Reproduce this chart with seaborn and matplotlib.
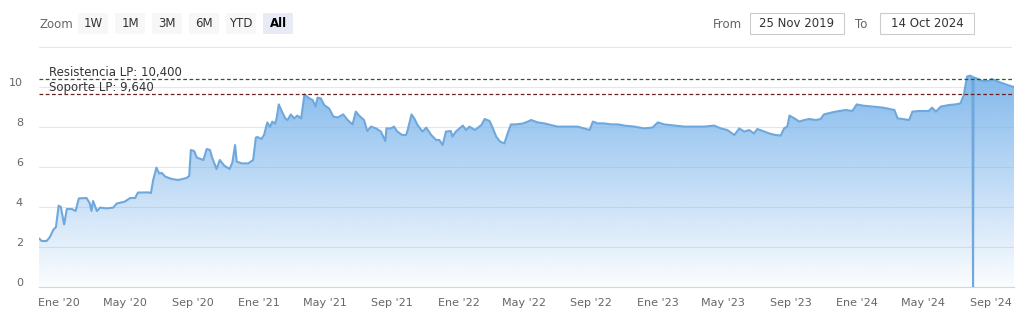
import numpy as np
import pandas as pd
import matplotlib
matplotlib.use("Agg")
import matplotlib.pyplot as plt
import matplotlib.dates as mdates
from matplotlib.patches import FancyBboxPatch, Rectangle
from matplotlib.transforms import ScaledTranslation
import seaborn as sns

# ---------------- data ----------------
dates = [
    "2019-11-25", "2019-11-30", "2019-12-09", "2019-12-15", "2019-12-21", "2019-12-26",
    "2019-12-31", "2020-01-04", "2020-01-10", "2020-01-15", "2020-01-24", "2020-01-31",
    "2020-02-06", "2020-02-20", "2020-02-26", "2020-02-29", "2020-03-03", "2020-03-10",
    "2020-03-16", "2020-03-28", "2020-04-09", "2020-04-15", "2020-04-30", "2020-05-10",
    "2020-05-19", "2020-05-24", "2020-06-12", "2020-06-17", "2020-06-21", "2020-06-27",
    "2020-07-02", "2020-07-07", "2020-07-13", "2020-07-25", "2020-08-06", "2020-08-21",
    "2020-08-26", "2020-08-29", "2020-09-04", "2020-09-09", "2020-09-21", "2020-09-27",
    "2020-10-03", "2020-10-07", "2020-10-15", "2020-10-21", "2020-10-29", "2020-11-08",
    "2020-11-13", "2020-11-18", "2020-11-21", "2020-11-30", "2020-12-12", "2020-12-21",
    "2020-12-26", "2020-12-29", "2021-01-05", "2021-01-10", "2021-01-16", "2021-01-21",
    "2021-01-25", "2021-01-30", "2021-02-02", "2021-02-06", "2021-02-08", "2021-02-13",
    "2021-02-18", "2021-02-22", "2021-02-28", "2021-03-06", "2021-03-12", "2021-03-19",
    "2021-03-25", "2021-04-03", "2021-04-09", "2021-04-14", "2021-04-18", "2021-04-24",
    "2021-04-30", "2021-05-09", "2021-05-17", "2021-05-25", "2021-06-04", "2021-06-12",
    "2021-06-21", "2021-06-27", "2021-07-03", "2021-07-12", "2021-07-18", "2021-07-25",
    "2021-08-03", "2021-08-12", "2021-08-20", "2021-08-22", "2021-08-30", "2021-09-05",
    "2021-09-11", "2021-09-20", "2021-09-27", "2021-09-30", "2021-10-07", "2021-10-12",
    "2021-10-18", "2021-10-27", "2021-11-03", "2021-11-12", "2021-11-21", "2021-11-27",
    "2021-12-03", "2021-12-09", "2021-12-18", "2021-12-21", "2021-12-27", "2022-01-09",
    "2022-01-15", "2022-01-21", "2022-01-31", "2022-02-12", "2022-02-18", "2022-02-27",
    "2022-03-05", "2022-03-11", "2022-03-18", "2022-03-26", "2022-04-01", "2022-04-07",
    "2022-04-16", "2022-04-28", "2022-05-08", "2022-05-14", "2022-05-26", "2022-06-07",
    "2022-06-19", "2022-07-01", "2022-07-20", "2022-08-07", "2022-08-29", "2022-09-04",
    "2022-09-13", "2022-09-25", "2022-10-08", "2022-10-20", "2022-11-01", "2022-11-19",
    "2022-12-07", "2022-12-22", "2023-01-01", "2023-01-13", "2023-02-01", "2023-02-19",
    "2023-03-09", "2023-03-27", "2023-04-14", "2023-04-26", "2023-05-08", "2023-05-21",
    "2023-05-30", "2023-06-08", "2023-06-17", "2023-06-26", "2023-07-02", "2023-07-15",
    "2023-07-24", "2023-07-30", "2023-08-05", "2023-08-14", "2023-08-20", "2023-08-26",
    "2023-08-30", "2023-09-08", "2023-09-17", "2023-09-26", "2023-10-05", "2023-10-17",
    "2023-10-26", "2023-11-01", "2023-11-16", "2023-11-29", "2023-12-11", "2023-12-23",
    "2023-12-31", "2024-01-11", "2024-01-29", "2024-02-17", "2024-03-09", "2024-03-15",
    "2024-03-24", "2024-04-05", "2024-04-11", "2024-04-23", "2024-05-11", "2024-05-17",
    "2024-05-24", "2024-06-02", "2024-06-17", "2024-06-29", "2024-07-08", "2024-07-14",
    "2024-07-20", "2024-07-26", "2024-07-30", "2024-07-31", "2024-08-01", "2024-08-05",
    "2024-08-17", "2024-08-29", "2024-09-03", "2024-09-17", "2024-09-29", "2024-10-11",
    "2024-10-14",
]
values = [
    2.43, 2.30, 2.30, 2.50, 2.85, 3.00,
    4.07, 4.00, 3.13, 3.90, 3.90, 3.80,
    4.43, 4.45, 4.18, 3.80, 4.30, 3.80,
    3.97, 3.93, 3.97, 4.17, 4.27, 4.45,
    4.45, 4.72, 4.73, 4.70, 5.35, 5.97,
    5.68, 5.70, 5.52, 5.40, 5.35, 5.45,
    5.55, 6.85, 6.80, 6.47, 6.35, 6.90,
    6.85, 6.47, 5.90, 6.35, 6.07, 5.90,
    6.23, 7.10, 6.27, 6.18, 6.18, 6.35,
    7.47, 7.50, 7.40, 7.60, 8.23, 8.00,
    8.27, 8.17, 8.43, 9.13, 9.00, 8.70,
    8.43, 8.35, 8.63, 8.43, 8.57, 8.43,
    9.63, 9.43, 9.35, 9.02, 9.47, 9.43,
    9.10, 8.93, 8.52, 8.48, 8.63, 8.35,
    8.13, 8.77, 8.57, 8.35, 7.80, 8.02,
    7.93, 7.77, 7.30, 7.93, 7.93, 8.02,
    7.77, 7.60, 7.60, 7.85, 8.63, 8.43,
    8.10, 7.77, 7.97, 7.60, 7.35, 7.35,
    7.10, 7.77, 7.80, 7.52, 7.77, 8.07,
    7.85, 8.02, 7.85, 8.10, 8.40, 8.30,
    7.93, 7.52, 7.27, 7.18, 7.68, 8.13,
    8.13, 8.17, 8.27, 8.35, 8.23, 8.18,
    8.10, 8.02, 8.02, 8.02, 7.85, 8.27,
    8.18, 8.18, 8.13, 8.13, 8.07, 8.02,
    7.93, 7.97, 8.23, 8.13, 8.07, 8.02,
    8.02, 8.02, 8.07, 7.93, 7.85, 7.60,
    7.93, 7.77, 7.85, 7.68, 7.90, 7.77,
    7.68, 7.63, 7.60, 7.57, 7.93, 8.02,
    8.57, 8.43, 8.27, 8.35, 8.40, 8.35,
    8.40, 8.63, 8.73, 8.80, 8.85, 8.80,
    9.13, 9.07, 9.02, 8.97, 8.85, 8.43,
    8.40, 8.35, 8.77, 8.80, 8.80, 8.97,
    8.77, 9.02, 9.10, 9.13, 9.18, 9.60,
    10.52, 10.57, 10.50, 0.00, 10.48, 10.45,
    10.30, 10.30, 10.40, 10.25, 10.13, 10.02,
    10.00,
]

resistance_label = "Resistencia LP: 10,400"
resistance_value = 10.4
support_label = "Soporte LP: 9,640"
support_value = 9.64

tick_dates = ["2020-01-01", "2020-05-01", "2020-09-01", "2021-01-01", "2021-05-01",
              "2021-09-01", "2022-01-01", "2022-05-01", "2022-09-01", "2023-01-01",
              "2023-05-01", "2023-09-01", "2024-01-01", "2024-05-01", "2024-09-01"]
tick_labels = ["Ene '20", "May '20", "Sep '20", "Ene '21", "May '21", "Sep '21",
               "Ene '22", "May '22", "Sep '22", "Ene '23", "May '23", "Sep '23",
               "Ene '24", "May '24", "Sep '24"]
y_ticks = [0, 2, 4, 6, 8, 10]

zoom_buttons = ["1W", "1M", "3M", "6M", "YTD", "All"]
from_text = "25 Nov 2019"
to_text = "14 Oct 2024"

df = pd.DataFrame({"date": pd.to_datetime(dates), "value": values})

# ---------------- figure ----------------
sns.set_style("white")
plt.rcParams["font.family"] = ["DejaVu Sans"]

W, H = 1031, 324
fig = plt.figure(figsize=(W / 100, H / 100), dpi=100)
ax_left, ax_right, ax_top, ax_bottom = 39, 1014, 62, 287
ax = fig.add_axes([ax_left / W, 1 - ax_bottom / H, (ax_right - ax_left) / W, (ax_bottom - ax_top) / H])

line_color = "#6fa8dc"
fill_rgb = np.array([124, 181, 236]) / 255.0

# gradient area fill
poly = ax.fill_between(df["date"], 0, df["value"], color="none", lw=0)
path = poly.get_paths()[0]
ymax_data = max(values)
n = 256
alpha = np.linspace(0.03, 0.95, n)
grad = np.zeros((n, 1, 4))
grad[:, 0, :3] = fill_rgb
grad[:, 0, 3] = alpha
x0 = mdates.date2num(pd.Timestamp(dates[0]))
x1 = mdates.date2num(pd.Timestamp(dates[-1]))
im = ax.imshow(grad, extent=[x0, x1, 0, ymax_data], origin="lower", aspect="auto", zorder=1,
               interpolation="bilinear")
im.set_clip_path(path, transform=ax.transData)

sns.lineplot(data=df, x="date", y="value", ax=ax, color=line_color, lw=1.5, zorder=3)

ax.set_xlim(pd.Timestamp("2019-11-25"), pd.Timestamp("2024-10-14"))
ax.set_ylim(0, 11.25)

# grid
ax.set_yticks(y_ticks)
ax.yaxis.grid(True, color="#e6e6e6", lw=0.8, zorder=0)
ax.xaxis.grid(False)
ax.set_axisbelow(True)
ax.tick_params(axis="y", length=0, pad=11.5, labelsize=8, labelcolor="#666666")
for lab in ax.get_yticklabels():
    lab.set_transform(lab.get_transform() + ScaledTranslation(0, 5 / 100, fig.dpi_scale_trans))

ax.set_xticks(pd.to_datetime(tick_dates))
ax.set_xticklabels(tick_labels)
ax.tick_params(axis="x", length=6.5, width=0.8, color="#ccd6eb", direction="out",
               pad=1.5, labelsize=8, labelcolor="#666666")
ax.set_xlabel("")
ax.set_ylabel("")

for s in ["top", "right", "left"]:
    ax.spines[s].set_visible(False)
ax.spines["bottom"].set_color("#ccd6eb")
ax.spines["bottom"].set_linewidth(0.8)

# plot lines
ax.axhline(resistance_value, color="#2d5a2d", lw=0.9, ls=(0, (3, 2)), zorder=4)
ax.axhline(support_value, color="#6b2020", lw=0.9, ls=(0, (3, 2)), zorder=4)
ax.annotate(resistance_label, xy=(10 / (ax_right - ax_left), resistance_value),
            xycoords=("axes fraction", "data"), xytext=(0, 2.2), textcoords="offset points",
            va="baseline", ha="left", fontsize=8.5, color="#333333", zorder=5)
ax.annotate(support_label, xy=(10 / (ax_right - ax_left), support_value),
            xycoords=("axes fraction", "data"), xytext=(0, 2.6), textcoords="offset points",
            va="baseline", ha="left", fontsize=8.5, color="#333333", zorder=5)

# ---------------- range selector ----------------
def fx(px):
    return px / W

def fy(py):
    return 1 - py / H

fig.text(fx(39), fy(24), "Zoom", ha="left", va="center", fontsize=8.5, color="#666666")
btn_x = [77, 114, 151, 188, 225, 262]
for bx, lab in zip(btn_x, zoom_buttons):
    active = lab == "All"
    rect = FancyBboxPatch((fx(bx + 1), fy(34)), fx(30), 21 / H,
                          boxstyle="round,pad=0,rounding_size=0.002",
                          transform=fig.transFigure, facecolor="#e6ebf5" if active else "#f7f7f7",
                          edgecolor="none")
    fig.patches.append(rect)
    fig.text(fx(bx + 16), fy(23.5), lab, ha="center", va="center", fontsize=8.5,
             color="#000000" if active else "#333333", fontweight="bold" if active else "normal")

fig.text(fx(713), fy(24), "From", ha="left", va="center", fontsize=8.5, color="#666666")
fig.text(fx(855), fy(24), "To", ha="left", va="center", fontsize=8.5, color="#666666")
for bx0, bx1, txt in [(750, 844, from_text), (880, 974, to_text)]:
    r = Rectangle((fx(bx0), fy(34)), fx(bx1 - bx0), 21 / H, transform=fig.transFigure,
                  facecolor="white", edgecolor="#cccccc", lw=0.8)
    fig.patches.append(r)
    fig.text(fx((bx0 + bx1) / 2), fy(23.5), txt, ha="center", va="center", fontsize=8.5,
             color="#333333")

fig.add_artist(plt.Line2D([fx(39), fx(1011)], [fy(47), fy(47)], transform=fig.transFigure,
                          color="#e6e6e6", lw=0.8))

fig.savefig("out.png", dpi=100)
